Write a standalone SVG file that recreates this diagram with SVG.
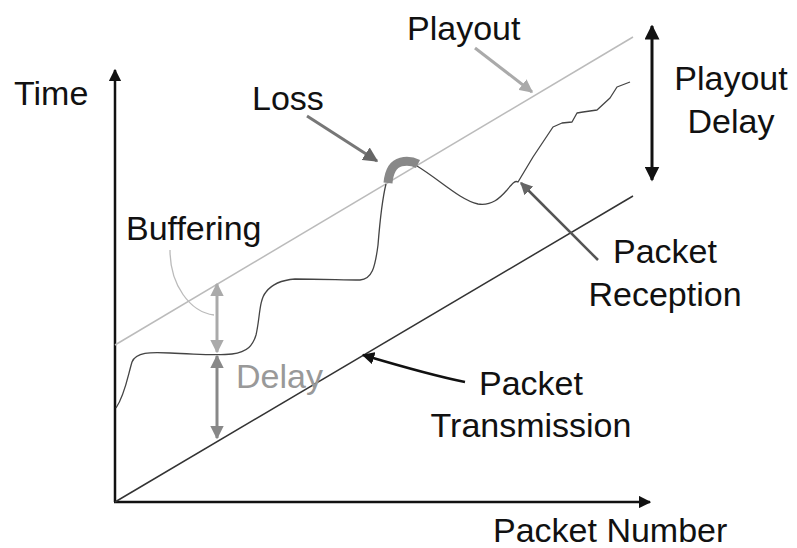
<svg xmlns="http://www.w3.org/2000/svg" width="797" height="548" viewBox="0 0 797 548">
<defs>
<style>
text{font-family:"Liberation Sans",Arial,sans-serif;font-size:34px;fill:#111}
.c{text-anchor:middle}
.ax{stroke:#111;stroke-width:2.5;fill:none}
</style>
<marker id="hb" viewBox="0 0 10 10" refX="9" refY="5" markerWidth="5" markerHeight="5" orient="auto-start-reverse"><path d="M0,0L10,5L0,10z" fill="#111"/></marker>
<marker id="hd" viewBox="0 0 10 10" refX="9" refY="5" markerWidth="5" markerHeight="5" orient="auto-start-reverse"><path d="M0,0L10,5L0,10z" fill="#666"/></marker>
<marker id="hm" viewBox="0 0 10 10" refX="9" refY="5" markerWidth="4.5" markerHeight="4.5" orient="auto-start-reverse"><path d="M0,0L10,5L0,10z" fill="#888"/></marker>
<marker id="hl" viewBox="0 0 10 10" refX="9" refY="5" markerWidth="4.5" markerHeight="4.5" orient="auto-start-reverse"><path d="M0,0L10,5L0,10z" fill="#aaa"/></marker>
</defs>
<rect width="797" height="548" fill="#fff"/>
<g id="axes">
<line class="ax" x1="115" y1="502" x2="115" y2="70" marker-end="url(#hb)"/>
<line class="ax" x1="114" y1="502" x2="650" y2="502" marker-end="url(#hb)"/>
<text x="14" y="105">Time</text>
<text x="493" y="542">Packet Number</text>
</g>
<g id="transmission">
<line x1="115" y1="502" x2="633" y2="196" stroke="#333" stroke-width="1.5"/>
</g>
<g id="playout-line">
<line x1="115" y1="345" x2="633" y2="37" stroke="#bbb" stroke-width="1.5"/>
</g>
<g id="reception">
<path d="M116,408 C125,395 128,375 132,362 C136,352 150,352 170,353 C200,354 215,356 232,354 C248,352 253,345 256,335 C260,318 259,300 266,292 C272,284 282,280 295,279 C320,279 345,280 360,280 C372,279 375,268 378,245 C380,220 382,200 386,184" fill="none" stroke="#444" stroke-width="1.3"/>
<path d="M417,166 C440,180 460,200 478,204 C492,206 500,198 507,190 C512,184 515,180 518,182 L533,157 L553,127 L562,123 L572,122 L577,113 L583,112 L597,110 L610,98 L617,87 L630,82" fill="none" stroke="#444" stroke-width="1.3" stroke-linejoin="round"/>
</g>
<g id="loss">
<path d="M388,183 C389,172 393,164 401,162 C409,160 414,162 418,164" fill="none" stroke="#888" stroke-width="9"/>
</g>
<g id="connectors">
<line x1="307" y1="116" x2="377" y2="161" stroke="#777" stroke-width="3" marker-end="url(#hd)"/>
<line x1="475" y1="48" x2="532" y2="92" stroke="#aaa" stroke-width="3" marker-end="url(#hl)"/>
<line x1="652" y1="26" x2="652" y2="180" stroke="#111" stroke-width="3" marker-start="url(#hb)" marker-end="url(#hb)"/>
<line x1="598" y1="260" x2="521" y2="183" stroke="#555" stroke-width="2.5" marker-end="url(#hd)"/>
<path d="M465,382 C430,375 400,366 363,355" fill="none" stroke="#111" stroke-width="2.5" marker-end="url(#hb)"/>
<line x1="217" y1="284" x2="217" y2="352" stroke="#aaa" stroke-width="3" marker-start="url(#hl)" marker-end="url(#hl)"/>
<line x1="217" y1="356" x2="217" y2="438" stroke="#888" stroke-width="3" marker-start="url(#hm)" marker-end="url(#hm)"/>
<path d="M170,250 C170,285 190,312 214,315" fill="none" stroke="#bbb" stroke-width="1.3"/>
</g>
<g id="labels">
<text x="252" y="110">Loss</text>
<text x="407" y="40">Playout</text>
<text class="c" x="731" y="90">Playout</text>
<text class="c" x="731" y="133">Delay</text>
<text x="126" y="240">Buffering</text>
<text x="236" y="388" style="fill:#999">Delay</text>
<text class="c" x="665" y="263">Packet</text>
<text class="c" x="665" y="306">Reception</text>
<text class="c" x="531" y="395">Packet</text>
<text class="c" x="531" y="437">Transmission</text>
</g>
</svg>
